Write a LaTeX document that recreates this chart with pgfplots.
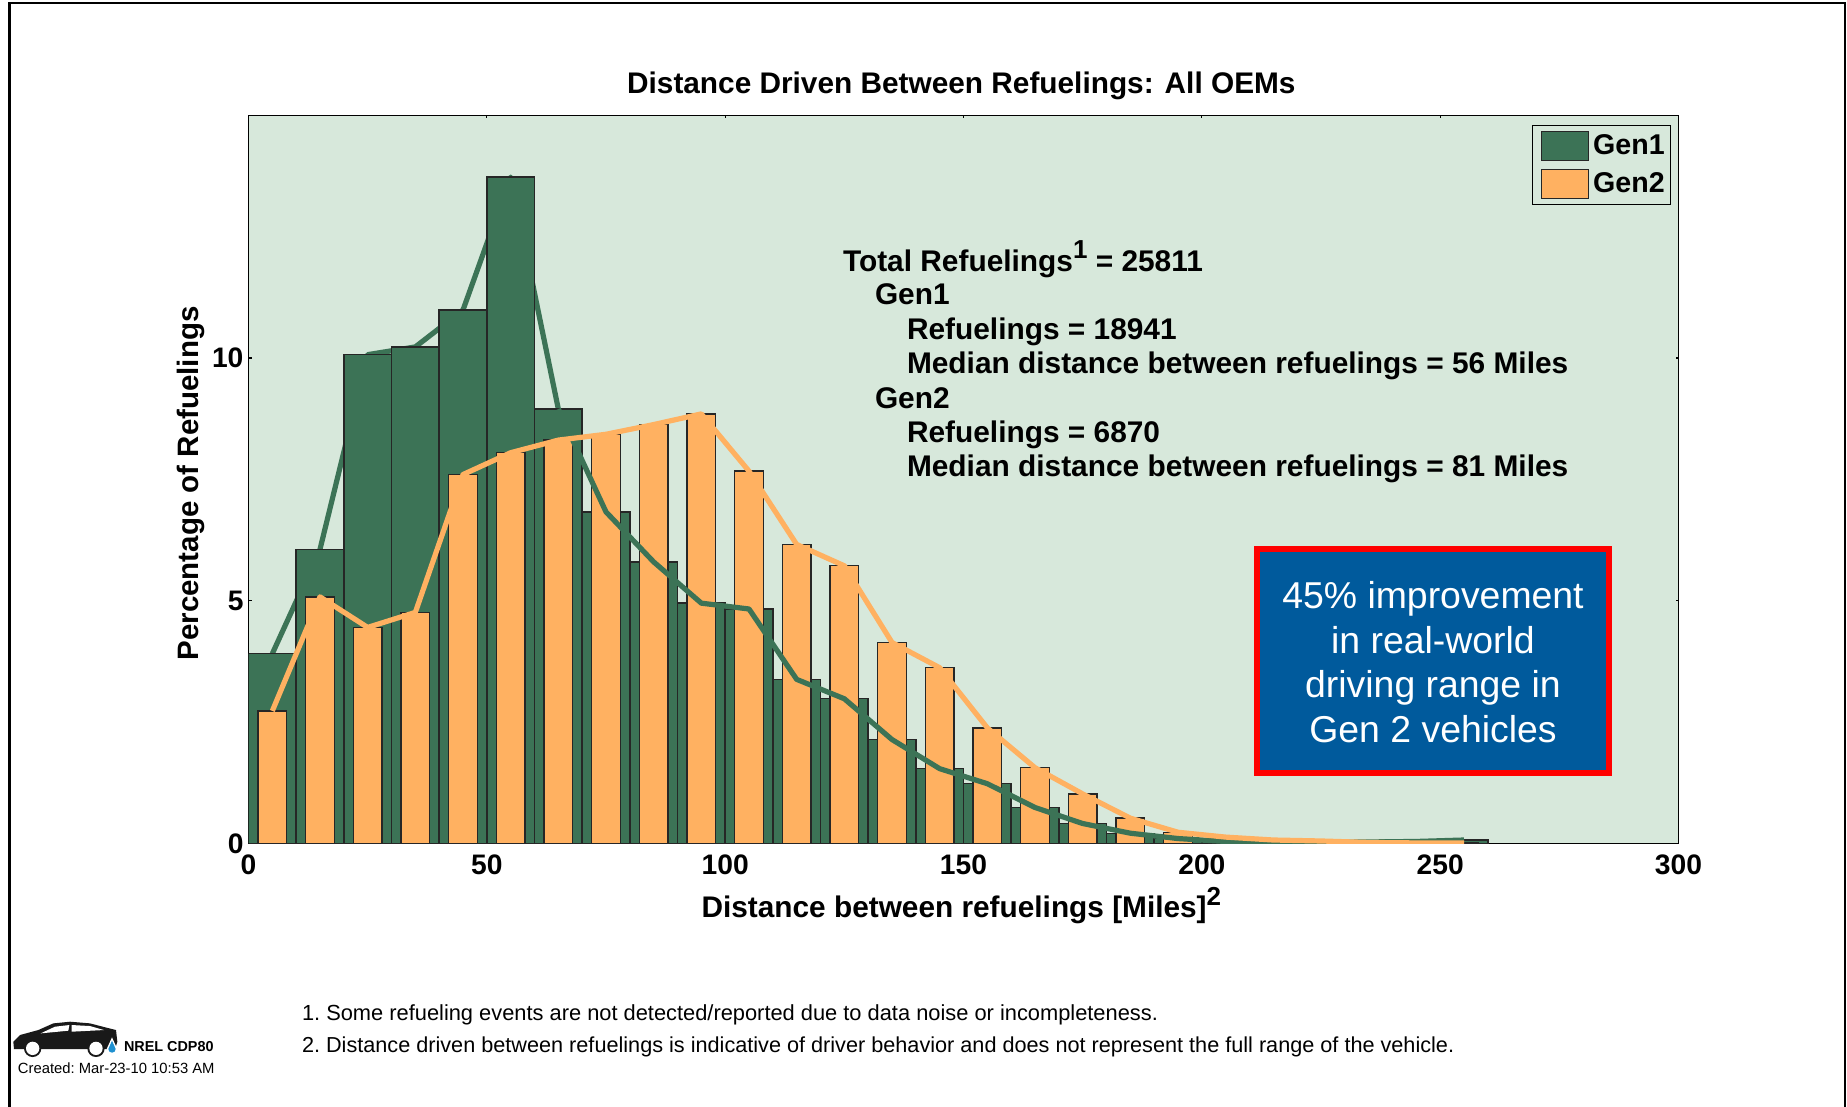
\documentclass[border=0pt]{standalone}
\usepackage{pgfplots}
\usepackage{fontspec}
\setmainfont{Liberation Sans}
\pgfplotsset{compat=1.18}
\definecolor{bgc}{HTML}{D7E8DB}
\definecolor{gone}{HTML}{3C7356}
\definecolor{gtwo}{HTML}{FFB161}
\definecolor{boxb}{HTML}{005A9C}
\definecolor{dropb}{HTML}{1E90D0}
\newcommand{\sq}[1]{\raisebox{0.42em}{\fontsize{13pt}{13pt}\selectfont #1}}
\begin{document}
\begin{tikzpicture}
\begin{scope}[x=0.5pt,y=-0.5pt]
\fill[white] (0,0) rectangle (1847,1107);
\fill[black] (8.2,1.7) rectangle (10.8,1107);
\fill[black] (8.2,1.7) rectangle (1846.3,4.3);
\fill[black] (1843.7,1.7) rectangle (1846.3,1107);
\end{scope}
\begin{axis}[
  at={(124.25pt,-421.7pt)}, anchor=south west,
  scale only axis, width=715pt, height=364pt,
  xmin=0, xmax=300, ymin=0, ymax=15,
  xtick={0,50,100,150,200,250,300}, ytick={0,5,10},
  axis background/.style={fill=bgc},
  axis line style={black,line width=0.7pt},
  tick style={black,line width=0.6pt},
  major tick length=1.5pt,
  tick align=inside,
  /pgf/number format/assume math mode=true,
  tick label style={font=\fontsize{14.1pt}{16pt}\selectfont\bfseries},
  xticklabel style={yshift=-2pt},
  yticklabel style={xshift=1pt},
  title={Distance Driven Between Refuelings: All OEMs},
  every axis title/.style={at={(axis description cs:0.4985,1.0295)},anchor=base,font=\fontsize{14.9pt}{16pt}\selectfont\bfseries},
  xlabel={Distance between refuelings [Miles]\sq{2}},
  every axis x label/.style={at={(axis description cs:0.4985,-0.1018)},anchor=base,font=\fontsize{14.9pt}{16pt}\selectfont\bfseries},
  ylabel={Percentage of Refuelings},
  every axis y label/.style={at={(axis description cs:-0.0353,0.4945)},rotate=90,anchor=base,font=\fontsize{14.75pt}{16pt}\selectfont\bfseries},
  legend style={at={(rel axis cs:0.995,0.987)},anchor=north east,draw=black,line width=0.6pt,fill=bgc,
    font=\fontsize{14.3pt}{16pt}\selectfont\bfseries,inner xsep=1pt,inner ysep=2.5pt,row sep=3.5pt,
    /tikz/every even column/.style={column sep=1pt}},
  legend cell align=left,
  legend image code/.code={\path[draw=none,fill=none] (-3.5pt,0pt) rectangle (0pt,0.1pt);\draw[#1,line width=0.6pt] (0pt,-7.2pt) rectangle (23.5pt,7.2pt);},
]
% Gen1 line, lower part (behind the bars)
\addplot[gone,line width=2.6pt,line join=round,forget plot] coordinates {
(5,3.91)(15,6.06)(25,10.07)(35,10.23)(45,10.99)(55,13.73)(65,8.95)};
% Gen1 bars
\addplot[ybar,bar width=10,bar shift=0pt,fill=gone,draw=black!85,line width=0.7pt] coordinates {
(5,3.91)(15,6.06)(25,10.07)(35,10.23)(45,10.99)(55,13.73)(65,8.95)(75,6.83)(85,5.80)(95,4.95)
(105,4.83)(115,3.38)(125,2.98)(135,2.14)(145,1.54)(155,1.23)(165,0.74)(175,0.41)(185,0.21)(195,0.10)
(205,0.04)(215,0.02)(225,0.02)(235,0.03)(245,0.04)(255,0.07)};
\addlegendentry{Gen1}
% Gen2 bars
\addplot[ybar,bar width=6,bar shift=0pt,fill=gtwo,draw=black!85,line width=0.7pt] coordinates {
(5,2.73)(15,5.08)(25,4.45)(35,4.76)(45,7.60)(55,8.05)(65,8.31)(75,8.43)(85,8.63)(95,8.85)
(105,7.67)(115,6.16)(125,5.72)(135,4.14)(145,3.62)(155,2.38)(165,1.56)(175,1.02)(185,0.52)(195,0.23)
(205,0.13)(215,0.07)(225,0.05)(235,0.02)(245,0.01)(255,0.01)};
\addlegendentry{Gen2}
% Gen1 line, upper part (over the bars)
\addplot[gone,line width=2.6pt,line join=round,forget plot] coordinates {
(65,8.95)(75,6.83)(85,5.80)(95,4.95)
(105,4.83)(115,3.38)(125,2.98)(135,2.14)(145,1.54)(155,1.23)(165,0.74)(175,0.41)(185,0.21)(195,0.10)
(205,0.04)(215,0.02)(225,0.02)(235,0.03)(245,0.04)(255,0.07)};
% Gen2 line
\addplot[gtwo,line width=2.6pt,line join=round,forget plot] coordinates {
(5,2.73)(15,5.08)(25,4.45)(35,4.76)(45,7.60)(55,8.05)(65,8.31)(75,8.43)(85,8.63)(95,8.85)
(105,7.67)(115,6.16)(125,5.72)(135,4.14)(145,3.62)(155,2.38)(165,1.56)(175,1.02)(185,0.52)(195,0.23)
(205,0.13)(215,0.07)(225,0.05)(235,0.02)(245,0.01)(255,0.01)};
\end{axis}
\begin{scope}[x=0.5pt,y=-0.5pt,every node/.style={inner sep=0pt,outer sep=0pt,anchor=base west,font=\fontsize{14.93pt}{16pt}\selectfont\bfseries}]
\node at (843,271) {Total Refuelings\sq{1} = 25811};
\node at (875,305) {Gen1};
\node at (907,339) {Refuelings = 18941};
\node at (907,373.5) {Median distance between refuelings = 56 Miles};
\node at (875,408) {Gen2};
\node at (907,442.5) {Refuelings = 6870};
\node at (907,476.5) {Median distance between refuelings = 81 Miles};
% call-out box
\fill[red] (1254,546) rectangle (1611.5,776);
\fill[boxb] (1260,552) rectangle (1605.5,770);
\begin{scope}[every node/.style={inner sep=0pt,outer sep=0pt,anchor=base,text=white,font=\fontsize{18.7pt}{20pt}\selectfont}]
\node at (1433,608) {45\% improvement};
\node at (1433,653) {in real-world};
\node at (1433,697.5) {driving range in};
\node at (1433,742) {Gen 2 vehicles};
\end{scope}
% footnotes
\begin{scope}[every node/.style={inner sep=0pt,outer sep=0pt,anchor=base west,font=\fontsize{10.83pt}{13pt}\selectfont\frenchspacing}]
\node[font=\fontsize{10.92pt}{13pt}\selectfont\frenchspacing] at (302,1020.5) {1. Some refueling events are not detected/reported due to data noise or incompleteness.};
\node at (302,1052.5) {2. Distance driven between refuelings is indicative of driver behavior and does not represent the full range of the vehicle.};
\end{scope}
\node[font=\fontsize{7.2pt}{8pt}\selectfont\bfseries] at (124,1051) {NREL CDP80};
\node[font=\fontsize{7.4pt}{8pt}\selectfont\frenchspacing] at (18,1073) {Created: Mar-23-10 10:53 AM};
\end{scope}
% car icon
\begin{scope}[x=0.16667pt,y=-0.16667pt,shift={(0,2940)}]
\fill[black!90] (42,207) -- (40,185) -- (60,165) -- (115,150) -- (160,130) -- (210,125) -- (270,130) -- (320,143) -- (348,150) -- (352,185) -- (345,207) -- cycle;
\fill[white] (122,160) -- (165,140) -- (208,135) -- (205,152) -- cycle;
\fill[white] (215,135) -- (270,138) -- (312,150) -- (215,155) -- cycle;
\fill[black!90] (98,205) circle (26);
\fill[black!90] (288,205) circle (26);
\fill[white] (98,205) circle (20);
\fill[white] (288,205) circle (20);
\fill[white] (336,172) -- (352,207) arc (0:180:16) -- cycle;
\fill[dropb] (336,182) -- (347,207) arc (0:180:11) -- cycle;
\end{scope}
\end{tikzpicture}
\end{document}
